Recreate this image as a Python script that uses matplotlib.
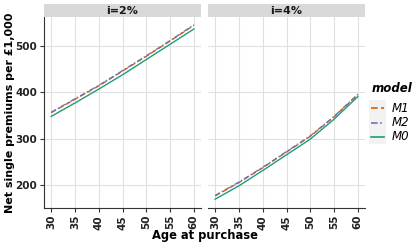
import matplotlib.pyplot as plt
from matplotlib.lines import Line2D
from matplotlib.patches import Rectangle

# ages at purchase
ages = [30, 35, 40, 45, 50, 55, 60]

# net single premiums, i=2%
m0_2 = [348, 377, 407, 438, 471, 504, 537]
m1_2 = [356, 385, 414, 446, 478, 511, 545]
m2_2 = [357, 386, 415, 447, 479, 512, 546]

# net single premiums, i=4%
m0_4 = [169, 198, 231, 265, 299, 342, 391]
m1_4 = [176, 205, 237, 271, 305, 347, 395]
m2_4 = [177, 206, 238, 272, 306, 348, 396]

panels = [("i=2%", m1_2, m2_2, m0_2), ("i=4%", m1_4, m2_4, m0_4)]
models = ['M1', 'M2', 'M0']
colors = ['#D95F02', '#7570B3', '#1B9E77']
styles = [(0, (4, 2)), (0, (4, 1.5, 1, 1.5)), '-']

W, H = 415, 244
fig = plt.figure(figsize=(W / 100, H / 100), dpi=100)

def box(x0, y0, x1, y1):
    return [x0 / W, 1 - y1 / H, (x1 - x0) / W, (y1 - y0) / H]

lefts = [44, 208]
for k, (title, m1, m2, m0) in enumerate(panels):
    ax = fig.add_axes(box(lefts[k], 17, lefts[k] + 157, 208))
    for ys, c, ls in zip([m1, m2, m0], colors, styles):
        ax.plot(ages, ys, color=c, linestyle=ls, lw=1)
    ax.set_xlim(28.5, 61.5)
    ax.set_ylim(150, 563)
    ax.set_xticks([30, 35, 40, 45, 50, 55, 60])
    ax.set_yticks([200, 300, 400, 500])
    ax.grid(True, color='#E0E0E0', lw=0.8)
    ax.set_axisbelow(True)
    for s in ['top', 'right']:
        ax.spines[s].set_visible(False)
    ax.spines['bottom'].set_color('#333333')
    ax.spines['left'].set_color('#333333')
    ax.tick_params(axis='x', labelrotation=90, length=3, color='#333333', labelsize=7.5, pad=2)
    ax.tick_params(axis='y', length=3, color='#333333', labelsize=7.5, pad=2)
    if k == 1:
        ax.spines['left'].set_visible(False)
        ax.tick_params(axis='y', left=False, labelleft=False)
    for t in ax.get_xticklabels() + ax.get_yticklabels():
        t.set_fontweight('bold')
        t.set_color('#222222')
    # facet strip
    sax = fig.add_axes(box(lefts[k], 4, lefts[k] + 157, 17))
    sax.set_facecolor('#D9D9D9')
    sax.set_xticks([])
    sax.set_yticks([])
    for s in sax.spines.values():
        s.set_visible(False)
    sax.text(0.5, 0.45, title, ha='center', va='center', fontsize=8, fontweight='bold',
             color='#1A1A1A', transform=sax.transAxes)

fig.text(205 / W, 1 - 235 / H, 'Age at purchase', ha='center', va='center',
         fontsize=8.3, fontweight='bold')
fig.text(10 / W, 1 - 113 / H, 'Net single premiums per £1,000', ha='center', va='center',
         rotation=90, fontsize=8, fontweight='bold')

# legend drawn by hand (ggplot style)
fig.text(372 / W, 1 - 89 / H, 'model', ha='left', va='center', fontsize=8.5,
         fontweight='bold', fontstyle='italic')
fig.add_artist(Rectangle((369 / W, 1 - 144 / H), 17 / W, 44 / H,
                         transform=fig.transFigure, facecolor='#F2F2F2', edgecolor='none'))
key_y = [108, 123, 137]
for name, c, ls, y in zip(models, colors, styles, key_y):
    fig.add_artist(Line2D([371 / W, 384 / W], [1 - y / H, 1 - y / H],
                          transform=fig.transFigure, color=c, linestyle=ls, lw=1.2))
    fig.text(392 / W, 1 - y / H, name, ha='left', va='center', fontsize=8.5,
             fontstyle='italic')

fig.savefig('out.png', dpi=100)
